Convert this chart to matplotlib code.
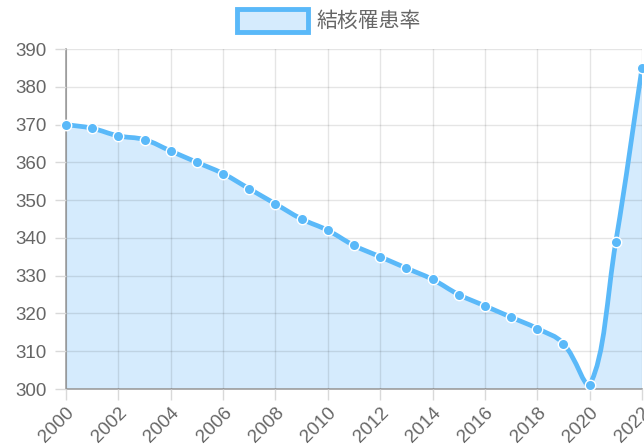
import numpy as np
import matplotlib
matplotlib.use("Agg")
import matplotlib.pyplot as plt
from matplotlib.path import Path
from matplotlib.patches import PathPatch, Rectangle

years = list(range(2000, 2023))
rates = [370, 369, 367, 366, 363, 360, 357, 353, 349, 345, 342, 338, 335,
         332, 329, 325, 322, 319, 316, 312, 301, 339, 385]
tick_years = list(range(2000, 2023, 2))
label = "結核罹患率"

LINE = "#5ab9f9"
FILL = "#d5ebfd"
GRAY = "#666666"

plt.rcParams["font.family"] = ["Liberation Sans", "Noto Sans CJK JP", "DejaVu Sans"]

fig = plt.figure(figsize=(6.44, 4.47), dpi=100)
ax = fig.add_axes([66 / 644, 58 / 447, 576 / 644, 340 / 447])
ax.set_xlim(2000, 2022)
ax.set_ylim(300, 390)

# chart.js style bezier spline, computed in pixel space
px = np.array(years, dtype=float)
py = np.array(rates, dtype=float)
sx = 576 / 22
sy = 340 / 90
X = px * sx
Y = py * sy
tension = 0.4
n = len(X)
cp_prev = np.zeros((n, 2))
cp_next = np.zeros((n, 2))
for i in range(n):
    p = (X[max(i - 1, 0)], Y[max(i - 1, 0)])
    c = (X[i], Y[i])
    nx = (X[min(i + 1, n - 1)], Y[min(i + 1, n - 1)])
    d01 = np.hypot(c[0] - p[0], c[1] - p[1])
    d12 = np.hypot(nx[0] - c[0], nx[1] - c[1])
    tot = d01 + d12 if d01 + d12 > 0 else 1
    fa = tension * d01 / tot
    fb = tension * d12 / tot
    cp_prev[i] = (c[0] - fa * (nx[0] - p[0]), c[1] - fa * (nx[1] - p[1]))
    cp_next[i] = (c[0] + fb * (nx[0] - p[0]), c[1] + fb * (nx[1] - p[1]))
cp_prev[:, 1] = np.clip(cp_prev[:, 1], 300 * sy, 390 * sy)
cp_next[:, 1] = np.clip(cp_next[:, 1], 300 * sy, 390 * sy)

verts = [(px[0], py[0])]
codes = [Path.MOVETO]
for i in range(n - 1):
    verts += [(cp_next[i, 0] / sx, cp_next[i, 1] / sy),
              (cp_prev[i + 1, 0] / sx, cp_prev[i + 1, 1] / sy),
              (px[i + 1], py[i + 1])]
    codes += [Path.CURVE4] * 3

fill_path = Path(verts + [(px[-1], 300), (px[0], 300), (px[0], py[0])],
                 codes + [Path.LINETO, Path.LINETO, Path.CLOSEPOLY])
ax.add_patch(PathPatch(fill_path, facecolor=FILL, edgecolor="none", zorder=1))
ax.add_patch(PathPatch(Path(verts, codes), facecolor="none", edgecolor=LINE,
                       linewidth=3.4, capstyle="round", joinstyle="round", zorder=3))
ax.plot(years, rates, "o", markersize=7.5, markerfacecolor=LINE,
        markeredgecolor="white", markeredgewidth=1.0, zorder=4, clip_on=False)

ax.set_xticks(tick_years)
ax.set_xticklabels([str(y) for y in tick_years], rotation=45, ha="right",
                   rotation_mode="anchor")
ax.set_yticks(range(300, 391, 10))
ax.grid(True, color="#000000", alpha=0.1, linewidth=1, zorder=2)
ax.set_axisbelow(False)
for s in ["top", "right"]:
    ax.spines[s].set_visible(False)
for s in ["left", "bottom"]:
    ax.spines[s].set_color("#a0a0a0")
    ax.spines[s].set_linewidth(1.2)
ax.tick_params(axis="both", colors="#d9d9d9", labelcolor=GRAY, labelsize=13.5,
               length=8, width=1)
ax.tick_params(axis="y", pad=6)
ax.tick_params(axis="x", pad=3)

# legend
fig.patches.append(Rectangle((237 / 644, 1 - 32 / 447), 71 / 644, 23 / 447,
                             transform=fig.transFigure, facecolor=FILL,
                             edgecolor=LINE, linewidth=3.5))
fig.text(317 / 644, 1 - 20.5 / 447, label, fontsize=15, color=GRAY, va="center",
         ha="left", family=["Noto Sans CJK JP", "DejaVu Sans"])

fig.savefig("out.png", dpi=100)
